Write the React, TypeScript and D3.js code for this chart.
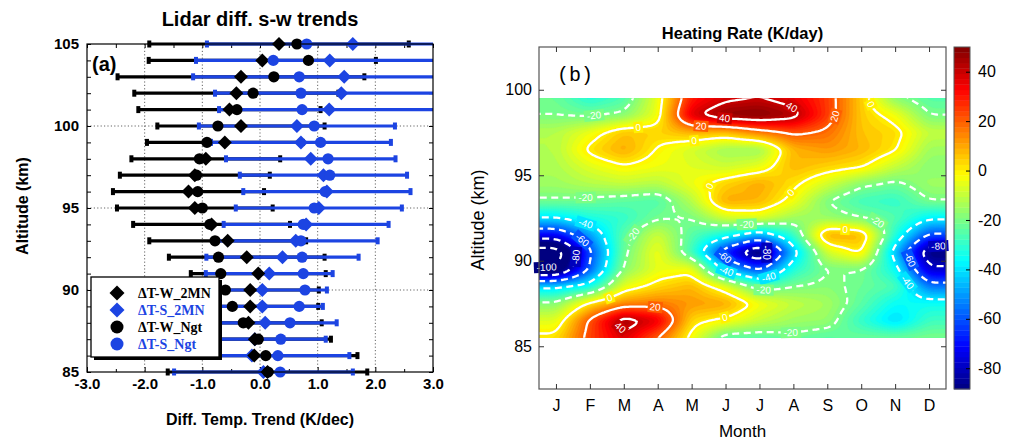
import React, { useEffect, useRef } from "react";
import * as d3 from "d3";

// ---------- panel (a): lidar summer-winter trend differences ----------
const altitudes = [105, 104, 103, 102, 101, 100, 99, 98, 97, 96, 95, 94, 93, 92, 91, 90, 89, 88, 87, 86, 85];
const w2mn = [0.33, 0.04, -0.33, -0.41, -0.53, -0.33, -0.61, -0.94, -1.13, -1.24, -1.13, -0.84, -0.56, -0.23, -0.03, -0.17, -0.17, -0.2, -0.09, -0.1, 0.13];
const w2mnErr = [2.25, 1.97, 2.14, 1.77, 1.58, 1.45, 1.35, 1.29, 1.3, 1.31, 1.35, 1.36, 1.36, 1.35, 1.17, 1.19, 1.18, 1.27, 1.32, 1.79, 1.73];
const s2mn = [1.61, 1.21, 1.46, 1.41, 1.2, 0.64, 0.71, 0.88, 1.1, 1.16, 1.02, 0.8, 0.62, 0.39, 0.16, 0.04, 0.04, 0.09, -0.09, -0.14, 0.06];
const s2mnErr = [2.53, 2.32, 2.62, 2.19, 1.91, 1.7, 1.56, 1.47, 1.45, 1.45, 1.44, 1.43, 1.42, 1.32, 1.1, 1.12, 1.05, 1.24, 1.23, 1.69, 1.55];
const wNgt = [0.64, 0.84, 0.24, -0.12, -0.4, -0.73, -0.92, -1.05, -1.1, -1.08, -1.0, -0.87, -0.78, -0.72, -0.68, -0.6, -0.48, -0.29, -0.03, 0.1, 0.14];
const sNgt = [0.81, 0.23, 0.68, 0.71, 0.73, 0.94, 1.05, 1.18, 1.21, 1.13, 0.94, 0.75, 0.71, 0.73, 0.75, 0.78, 0.68, 0.52, 0.36, 0.31, 0.35];
const xTicksA = [-3, -2, -1, 0, 1, 2, 3];
const yTicksA = [85, 90, 95, 100, 105];
const legendLabels = ["\u0394T-W_2MN", "\u0394T-S_2MN", "\u0394T-W_Ngt", "\u0394T-S_Ngt"];

// ---------- panel (b): heating rate (K/day), rows by altitude, columns Jan..Dec ----------
const monthLabels = ["J", "F", "M", "A", "M", "J", "J", "A", "S", "O", "N", "D"];
const hrAlt = [99.5, 98.5, 97.5, 96.5, 95.5, 94.5, 93.5, 92.5, 91.5, 90.5, 89.5, 88.5, 87.5, 86.5, 85.5];
const hr99_5 = [-22, -32, -26, -5, 30, 38, 40, 36, 25, 5, -18, -25];
const hr98_5 = [-20, -21, -18, -4, 38, 48, 50, 44, 25, 5, -3, -20];
const hr97_5 = [-12, -4, 6, 4, 8, 6, 15, 22, 18, 6, 3, -10];
const hr96_5 = [-12, 2, 10, -1, -8, -15, -16, 8, 12, 8, 1, -15];
const hr95_5 = [-13, -6, -1, -4, -6, -9, -5, 8, 4, 1, -10, -18];
const hr94_5 = [-15, -12, -10, -12, -4, 4, 10, 2, -8, -18, -22, -15];
const hr93_5 = [-21, -22, -24, -26, -12, 10, 8, -3, -20, -28, -30, -20];
const hr92_5 = [-40, -33, -30, -21, -20, -8, -6, -15, -16, -20, -25, -38];
const hr91_5 = [-72, -50, -24, -8, -25, -35, -48, -30, 10, 8, -32, -62];
const hr90_5 = [-110, -62, -22, -3, -28, -68, -96, -45, -8, 2, -45, -90];
const hr89_5 = [-100, -58, -18, -5, -3, -45, -62, -32, -20, -20, -35, -78];
const hr88_5 = [-42, -35, -5, 3, 8, -5, -25, -20, -18, -22, -26, -55];
const hr87_5 = [-18, 2, 14, 16, 12, 10, -3, -10, -14, -24, -36, -35];
const hr86_5 = [-6, 22, 46, 36, 3, -2, -10, -15, -16, -30, -42, -28];
const hr85_5 = [2, 24, 38, 20, -3, -25, -25, -22, -25, -22, -22, -20];
const cbTicks = [40, 20, 0, -20, -40, -60, -80];
const yTicksB = [85, 90, 95, 100];
const lineLevels = [-100, -80, -60, -40, -20, 0, 20, 40];

const SANS = "'Liberation Sans', Arial, Helvetica, sans-serif";
const BLUE = "#1c44e2";

function jet(t) {
  const c = (v) => Math.max(0, Math.min(1, v));
  t = c(t);
  const r = c(1.5 - Math.abs(4 * t - 3));
  const g = c(1.5 - Math.abs(4 * t - 2));
  const b = c(1.5 - Math.abs(4 * t - 1));
  return d3.rgb(r * 255, g * 255, b * 255).formatHex();
}

const diamond = (cx, cy, r) => `M${cx},${cy - r}L${cx + r},${cy}L${cx},${cy + r}L${cx - r},${cy}Z`;

function styleAxis(sel, size, bold) {
  sel.select(".domain").remove();
  sel.selectAll(".tick line").attr("stroke", "#000");
  sel.selectAll("text")
    .attr("fill", "#000")
    .style("font-family", SANS)
    .style("font-size", size + "px")
    .style("font-weight", bold ? "bold" : "normal");
}

function drawLeft(svg) {
  const x = d3.scaleLinear().domain([-3, 3]).range([87, 433]);
  const y = d3.scaleLinear().domain([85, 105]).range([372, 44]);
  const g = svg.append("g");

  // dotted grid
  g.append("g").selectAll("line").data(xTicksA.slice(1, -1)).join("line")
    .attr("x1", (d) => x(d)).attr("x2", (d) => x(d)).attr("y1", y(105)).attr("y2", y(85))
    .attr("stroke", "#222").attr("stroke-width", 0.7).attr("stroke-dasharray", "1.2,2.2");
  g.append("g").selectAll("line").data(yTicksA.slice(1, -1)).join("line")
    .attr("y1", (d) => y(d)).attr("y2", (d) => y(d)).attr("x1", x(-3)).attr("x2", x(3))
    .attr("stroke", "#222").attr("stroke-width", 0.7).attr("stroke-dasharray", "1.2,2.2");

  // axes
  const bot = g.append("g").attr("transform", `translate(0,${y(85)})`)
    .call(d3.axisBottom(x).tickValues(xTicksA).tickSize(-5).tickPadding(6).tickFormat((d) => d.toFixed(1)));
  styleAxis(bot, 15, true);
  const botMinor = g.append("g").attr("transform", `translate(0,${y(85)})`)
    .call(d3.axisBottom(x).tickValues(d3.range(-2.5, 3, 1)).tickSize(-3).tickFormat(() => ""));
  styleAxis(botMinor, 10, false);
  const top = g.append("g").attr("transform", `translate(0,${y(105)})`)
    .call(d3.axisTop(x).tickValues(d3.range(-3, 3.01, 0.5)).tickSize(-4).tickFormat(() => ""));
  styleAxis(top, 10, false);
  const left = g.append("g").attr("transform", `translate(${x(-3)},0)`)
    .call(d3.axisLeft(y).tickValues(d3.range(85, 106)).tickSize(-4).tickPadding(8)
      .tickFormat((d) => (yTicksA.includes(d) ? String(d) : "")));
  styleAxis(left, 15, true);
  const right = g.append("g").attr("transform", `translate(${x(3)},0)`)
    .call(d3.axisRight(y).tickValues(d3.range(85, 106)).tickSize(-4).tickFormat(() => ""));
  styleAxis(right, 10, false);

  // bars + markers, clipped to the plot
  svg.append("clipPath").attr("id", "clipA").append("rect")
    .attr("x", x(-3)).attr("y", y(105) - 12).attr("width", x(3) - x(-3)).attr("height", y(85) - y(105) + 24);
  const pg = g.append("g").attr("clip-path", "url(#clipA)");

  const bar = (vals, errs, col) => {
    const bg = pg.append("g");
    altitudes.forEach((a, i) => {
      const x0 = x(vals[i] - errs[i]);
      const x1 = x(vals[i] + errs[i]);
      bg.append("line").attr("x1", x0).attr("x2", x1).attr("y1", y(a)).attr("y2", y(a))
        .attr("stroke", col).attr("stroke-width", 3.2);
      [x0, x1].forEach((xc) =>
        bg.append("rect").attr("x", xc - 2).attr("y", y(a) - 3.5).attr("width", 4).attr("height", 7).attr("fill", col));
    });
  };
  bar(w2mn, w2mnErr, "#000");
  bar(s2mn, s2mnErr, BLUE);

  pg.append("g").selectAll("path").data(altitudes).join("path")
    .attr("d", (a, i) => diamond(x(s2mn[i]), y(a), 7)).attr("fill", BLUE);
  pg.append("g").selectAll("path").data(altitudes).join("path")
    .attr("d", (a, i) => diamond(x(w2mn[i]), y(a), 7)).attr("fill", "#000");
  pg.append("g").selectAll("circle").data(altitudes).join("circle")
    .attr("cx", (a, i) => x(wNgt[i])).attr("cy", (a) => y(a)).attr("r", 5.6).attr("fill", "#000");
  pg.append("g").selectAll("circle").data(altitudes).join("circle")
    .attr("cx", (a, i) => x(sNgt[i])).attr("cy", (a) => y(a)).attr("r", 5.6).attr("fill", BLUE);

  // frame
  g.append("rect").attr("x", x(-3)).attr("y", y(105)).attr("width", x(3) - x(-3)).attr("height", y(85) - y(105))
    .attr("fill", "none").attr("stroke", "#000").attr("stroke-width", 1.2);

  // legend
  const lg = g.append("g");
  lg.append("rect").attr("x", 94).attr("y", 280).attr("width", 128).attr("height", 80).attr("fill", "#000");
  lg.append("rect").attr("x", 91).attr("y", 277).attr("width", 128).attr("height", 80)
    .attr("fill", "#fff").attr("stroke", "#000").attr("stroke-width", 1.3);
  const cols = ["#000", BLUE, "#000", BLUE];
  legendLabels.forEach((lab, i) => {
    const ly = 293 + i * 17;
    if (i < 2) lg.append("path").attr("d", diamond(117, ly, 7.5)).attr("fill", cols[i]);
    else lg.append("circle").attr("cx", 117).attr("cy", ly).attr("r", 6.5).attr("fill", cols[i]);
    lg.append("text").attr("x", 138).attr("y", ly).attr("dy", "0.35em").text(lab)
      .attr("fill", cols[i]).style("font-family", "'Liberation Serif', 'Times New Roman', serif")
      .style("font-size", "14px").style("font-weight", "bold");
  });

  // texts
  g.append("text").attr("x", 260).attr("y", 26).attr("text-anchor", "middle").text("Lidar diff. s-w trends")
    .style("font-family", SANS).style("font-size", "20px").style("font-weight", "bold");
  g.append("text").attr("x", 92).attr("y", 71).text("(a)")
    .style("font-family", SANS).style("font-size", "20px").style("font-weight", "bold");
  g.append("text").attr("x", 260).attr("y", 425).attr("text-anchor", "middle").text("Diff. Temp. Trend (K/dec)")
    .style("font-family", SANS).style("font-size", "16px").style("font-weight", "bold");
  g.append("text").attr("transform", "translate(28,206) rotate(-90)").attr("text-anchor", "middle")
    .text("Altitude (km)").style("font-family", SANS).style("font-size", "16px").style("font-weight", "bold");
}

function boxBlur(v, w, h, rx, ry) {
  const tmp = new Float64Array(v.length);
  for (let j = 0; j < h; j++)
    for (let i = 0; i < w; i++) {
      let s = 0;
      for (let k = -rx; k <= rx; k++) s += v[j * w + Math.min(w - 1, Math.max(0, i + k))];
      tmp[j * w + i] = s / (2 * rx + 1);
    }
  for (let j = 0; j < h; j++)
    for (let i = 0; i < w; i++) {
      let s = 0;
      for (let k = -ry; k <= ry; k++) s += tmp[Math.min(h - 1, Math.max(0, j + k)) * w + i];
      v[j * w + i] = s / (2 * ry + 1);
    }
}

function drawRight(svg) {
  const x = d3.scaleLinear().domain([0.5, 12.5]).range([539, 946]);
  const y = d3.scaleLinear().domain([82.5, 102.5]).range([389, 47]);
  const cmin = -88.4, cmax = 50;
  const color = (v) => jet((v - cmin) / (cmax - cmin));
  const table = [hr99_5, hr98_5, hr97_5, hr96_5, hr95_5, hr94_5, hr93_5, hr92_5, hr91_5, hr90_5, hr89_5, hr88_5, hr87_5, hr86_5, hr85_5];
  const nR = hrAlt.length, nC = monthLabels.length;
  const aTop = hrAlt[0], aBot = hrAlt[nR - 1];
  const step = hrAlt[0] - hrAlt[1];

  // sample the table (bilinear) on a fine grid padded past the data box
  const pad = 0.6;
  const nx = 264, ny = 184;
  const gm0 = 0.5 - pad, gm1 = 12.5 + pad, ga0 = aTop + pad, ga1 = aBot - pad;
  const dm = (gm1 - gm0) / nx, da = (ga0 - ga1) / ny;
  const vals = new Float64Array(nx * ny);
  for (let j = 0; j < ny; j++) {
    const a = ga0 - (j + 0.5) * da;
    const fy = Math.max(0, Math.min(nR - 1, (aTop - a) / step));
    const j0 = Math.min(nR - 2, Math.floor(fy)), ty = fy - j0;
    for (let i = 0; i < nx; i++) {
      const m = gm0 + (i + 0.5) * dm;
      const fx = Math.max(0, Math.min(nC - 1, m - 1));
      const i0 = Math.min(nC - 2, Math.floor(fx)), tx = fx - i0;
      const v0 = table[j0][i0] * (1 - tx) + table[j0][i0 + 1] * tx;
      const v1 = table[j0 + 1][i0] * (1 - tx) + table[j0 + 1][i0 + 1] * tx;
      vals[j * nx + i] = v0 * (1 - ty) + v1 * ty;
    }
  }
  boxBlur(vals, nx, ny, 3, 2);
  boxBlur(vals, nx, ny, 3, 2);

  const toPx = (p) => [x(gm0 + p[0] * dm), y(ga0 - p[1] * da)];
  const toPath = (mp) =>
    mp.coordinates.map((poly) => poly.map((ring) =>
      "M" + ring.map((p) => toPx(p).map((v) => v.toFixed(1)).join(",")).join("L") + "Z").join("")).join("");
  const gen = d3.contours().size([nx, ny]);

  const X0 = x(0.5), X1 = x(12.5), Y0 = y(aTop), Y1 = y(aBot);
  svg.append("clipPath").attr("id", "clipB").append("rect")
    .attr("x", X0).attr("y", Y0).attr("width", X1 - X0).attr("height", Y1 - Y0);
  const g = svg.append("g");
  const fillG = g.append("g").attr("clip-path", "url(#clipB)");
  fillG.append("rect").attr("x", X0).attr("y", Y0).attr("width", X1 - X0).attr("height", Y1 - Y0).attr("fill", color(-120));
  d3.range(-120, 54, 2).forEach((t) => {
    fillG.append("path").attr("d", toPath(gen.contour(vals, t))).attr("fill", color(t + 1)).attr("stroke", color(t + 1)).attr("stroke-width", 0.3);
  });

  // contour lines + labels
  const lineG = g.append("g").attr("clip-path", "url(#clipB)");
  const labels = [];
  const inside = (p) => p[0] > X0 + 7 && p[0] < X1 - 7 && p[1] > Y0 + 5 && p[1] < Y1 - 5;
  lineLevels.forEach((lv) => {
    const c = gen.contour(vals, lv);
    lineG.append("path").attr("d", toPath(c)).attr("fill", "none").attr("stroke", "#fff")
      .attr("stroke-width", 2.3).attr("stroke-dasharray", lv < 0 ? "7,4.5" : null);
    c.coordinates.forEach((poly) => poly.forEach((ring) => {
      const pts = ring.map(toPx);
      let dist = 0, next = 38;
      for (let k = 1; k < pts.length; k++) {
        if (!inside(pts[k - 1]) || !inside(pts[k])) { dist = 0; next = 38; continue; }
        dist += Math.hypot(pts[k][0] - pts[k - 1][0], pts[k][1] - pts[k - 1][1]);
        if (dist >= next) {
          const p0 = pts[Math.max(0, k - 4)], p1 = pts[Math.min(pts.length - 1, k + 4)];
          let ang = (Math.atan2(p1[1] - p0[1], p1[0] - p0[0]) * 180) / Math.PI;
          if (ang > 90) ang -= 180;
          if (ang < -90) ang += 180;
          labels.push({ x: pts[k][0], y: pts[k][1], ang, lv });
          next += 175;
        }
      }
    }));
  });
  const lab = g.append("g").selectAll("g").data(labels).join("g")
    .attr("transform", (d) => `translate(${d.x},${d.y}) rotate(${d.ang})`);
  lab.append("rect").attr("x", (d) => -(String(d.lv).length * 5.4 + 4) / 2).attr("y", -5.5)
    .attr("width", (d) => String(d.lv).length * 5.4 + 4).attr("height", 11).attr("fill", (d) => color(d.lv));
  lab.append("text").attr("text-anchor", "middle").attr("dy", "0.35em").text((d) => String(d.lv))
    .attr("fill", "#fff").style("font-family", SANS).style("font-size", "10px");

  // frame + ticks
  g.append("rect").attr("x", X0).attr("y", y(102.5)).attr("width", X1 - X0).attr("height", y(82.5) - y(102.5))
    .attr("fill", "none").attr("stroke", "#555").attr("stroke-width", 1.2);
  const mIdx = d3.range(1, 13);
  const bot = g.append("g").attr("transform", `translate(0,${y(82.5)})`)
    .call(d3.axisBottom(x).tickValues(mIdx).tickSize(-5).tickPadding(11).tickFormat((d) => monthLabels[d - 1]));
  styleAxis(bot, 16, false);
  const top = g.append("g").attr("transform", `translate(0,${y(102.5)})`)
    .call(d3.axisTop(x).tickValues(mIdx).tickSize(-5).tickFormat(() => ""));
  styleAxis(top, 10, false);
  const left = g.append("g").attr("transform", `translate(${X0},0)`)
    .call(d3.axisLeft(y).tickValues(yTicksB).tickSize(-5).tickPadding(7).tickFormat((d) => String(d)));
  styleAxis(left, 16, false);
  const right = g.append("g").attr("transform", `translate(${X1},0)`)
    .call(d3.axisRight(y).tickValues(yTicksB).tickSize(-5).tickFormat(() => ""));
  styleAxis(right, 10, false);
  g.selectAll(".tick line").attr("stroke", "#333");

  // colorbar
  const cb = d3.scaleLinear().domain([cmin, cmax]).range([389, 47]);
  const nSteps = 64, cbX = 954, cbW = 16;
  const h = (cb(cmin) - cb(cmax)) / nSteps;
  g.append("g").selectAll("rect").data(d3.range(nSteps)).join("rect")
    .attr("x", cbX).attr("width", cbW).attr("y", (k) => cb(cmin) - (k + 1) * h).attr("height", h + 0.4)
    .attr("fill", (k) => jet((k + 0.5) / nSteps));
  g.append("rect").attr("x", cbX).attr("y", cb(cmax)).attr("width", cbW).attr("height", cb(cmin) - cb(cmax))
    .attr("fill", "none").attr("stroke", "#555").attr("stroke-width", 1);
  const cbAx = g.append("g").attr("transform", `translate(${cbX + cbW},0)`)
    .call(d3.axisRight(cb).tickValues(cbTicks).tickSize(-4).tickPadding(8).tickFormat((d) => String(d)));
  styleAxis(cbAx, 16, false);

  // texts
  g.append("text").attr("x", (X0 + X1) / 2).attr("y", 39).attr("text-anchor", "middle").text("Heating Rate (K/day)")
    .style("font-family", SANS).style("font-size", "16.5px").style("font-weight", "bold");
  g.append("text").attr("x", 557).attr("y", 81).text("(b)")
    .style("font-family", "'Liberation Mono', 'Courier New', monospace").style("font-size", "20px");
  g.append("text").attr("x", (X0 + X1) / 2).attr("y", 437).attr("text-anchor", "middle").text("Month")
    .style("font-family", SANS).style("font-size", "17px");
  g.append("text").attr("transform", "translate(484,220) rotate(-90)").attr("text-anchor", "middle")
    .text("Altitude (km)").style("font-family", SANS).style("font-size", "18px");
}

export default function App() {
  const ref = useRef(null);
  useEffect(() => {
    const svg = d3.select(ref.current);
    svg.selectAll("*").remove();
    drawLeft(svg);
    drawRight(svg);
  }, []);
  return (
    <svg ref={ref} width={1010} height={440}
      style={{ position: "absolute", left: 0, top: 0, background: "#fff" }} />
  );
}
